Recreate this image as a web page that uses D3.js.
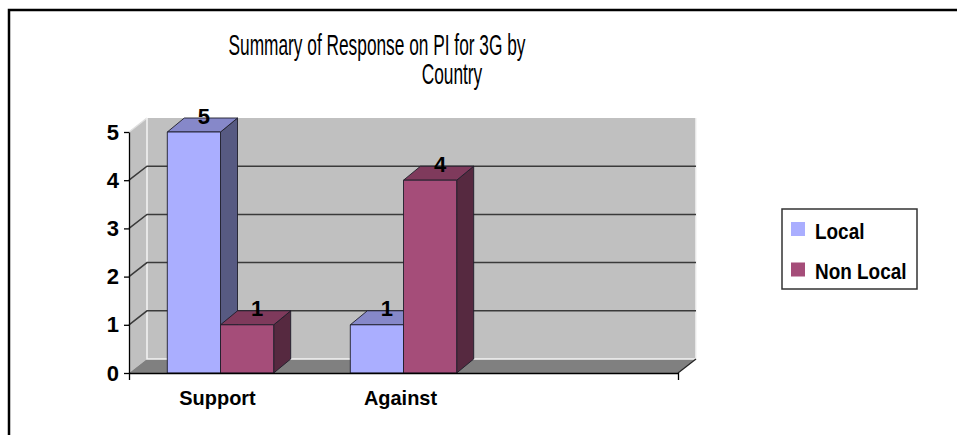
<!DOCTYPE html>
<html lang="en">

<head>
	<meta charset="utf-8" />
	<title>Summary of Response on PI for 3G by Country</title>
	<style>
		body {
			margin: 0;
			padding: 0;
			background: #fff;
		}
		svg text {
			font-family: 'Liberation Sans', Arial, sans-serif;
		}
	</style>
	<script src="https://d3js.org/d3.v7.min.js"></script>
</head>

<body>
	<div id="chart"></div>

	<script>
	// data (third category slot is empty in the original)
	const categories = ["Support", "Against", ""];
	const series = ["Local", "Non Local"];
	const localValues = [5, 1, null];
	const nonLocalValues = [1, 4, null];
	const yTicks = [0, 1, 2, 3, 4, 5];
	const titleLines = ["Summary of Response on PI for 3G by", "Country"];

	const width = 957, height = 435;
	const wallDx = 18, wallDy = -14;   // depth of the 3d walls
	const barDx = 17, barDy = -14;     // depth of each column

	const colors = {
		"Local": { front: "#aaaeff", top: "#8688c9", side: "#575a82" },
		"Non Local": { front: "#a54d79", top: "#7f3a5c", side: "#562940" }
	};

	const svg = d3.select("#chart")
		.append("svg")
		.attr("width", width)
		.attr("height", height);

	// squeeze text horizontally, the original fonts are narrow
	function condense(sel, f) {
		sel.each(function() {
			const len = this.getComputedTextLength();
			if (len > 0) {
				d3.select(this)
					.attr("textLength", len * f)
					.attr("lengthAdjust", "spacingAndGlyphs");
			}
		});
	}

	// outer chart border (runs off the page on right and bottom)
	svg.append("rect")
		.attr("x", 9).attr("y", 10)
		.attr("width", 1000).attr("height", 1000)
		.attr("fill", "none")
		.attr("stroke", "#000")
		.attr("stroke-width", 2.5);

	const x = d3.scaleBand().domain(categories).range([129, 678]);
	const xs = d3.scaleBand().domain(series)
		.range([0, x.bandwidth()])
		.paddingInner(0)
		.paddingOuter(0.72);
	const y = d3.scaleLinear().domain([0, 5]).range([373, 132]);

	const x0 = x.range()[0], x1 = x.range()[1];
	const yTop = y(5), yBot = y(0);

	// walls and floor
	const walls = svg.append("g");
	walls.append("polygon")   // back wall
		.attr("points", [[x0 + wallDx, yTop + wallDy], [x1 + wallDx, yTop + wallDy], [x1 + wallDx, yBot + wallDy], [x0 + wallDx, yBot + wallDy]].join(" "))
		.attr("fill", "#c0c0c0");
	walls.append("polygon")   // side wall
		.attr("points", [[x0, yTop], [x0 + wallDx, yTop + wallDy], [x0 + wallDx, yBot + wallDy], [x0, yBot]].join(" "))
		.attr("fill", "#c0c0c0");
	walls.append("polygon")   // floor
		.attr("points", [[x0, yBot], [x0 + wallDx, yBot + wallDy], [x1 + wallDx, yBot + wallDy], [x1, yBot]].join(" "))
		.attr("fill", "#808080");

	// gridlines on side and back wall
	const grid = svg.append("g");
	grid.selectAll("path")
		.data(yTicks.filter(d => d > 0 && d < 5))
		.enter()
		.append("path")
		.attr("d", d => `M${x0},${y(d)}L${x0 + wallDx},${y(d) + wallDy}H${x1 + wallDx}`)
		.attr("fill", "none")
		.attr("stroke", "#3a3a3a")
		.attr("stroke-width", 1.5);

	// light edges of the walls
	walls.append("path")
		.attr("d", `M${x0},${yTop}L${x0 + wallDx},${yTop + wallDy}`)
		.attr("stroke", "#e0e0e0").attr("stroke-width", 1.5).attr("fill", "none");
	walls.append("path")
		.attr("d", `M${x0 + wallDx},${yTop + wallDy}V${yBot + wallDy}H${x1 + wallDx}V${yTop + wallDy}`)
		.attr("stroke", "#f4f4f4").attr("stroke-width", 1.5).attr("fill", "none");
	walls.append("path")
		.attr("d", `M${x1},${yBot}L${x1 + wallDx},${yBot + wallDy}`)
		.attr("stroke", "#222").attr("stroke-width", 1.2).attr("fill", "none");

	// columns
	const rows = [];
	categories.forEach((c, i) => {
		rows.push({ cat: c, s: "Local", v: localValues[i] });
		rows.push({ cat: c, s: "Non Local", v: nonLocalValues[i] });
	});
	const bars = rows.filter(d => d.v != null);

	const bar = svg.append("g").selectAll("g")
		.data(bars)
		.enter()
		.append("g")
		.attr("stroke", "#1e1e2a")
		.attr("stroke-width", 0.9)
		.attr("stroke-linejoin", "round");

	bar.append("polygon")   // side face
		.attr("points", d => {
			const bx = x(d.cat) + xs(d.s) + xs.bandwidth(), t = y(d.v);
			return [[bx, t], [bx + barDx, t + barDy], [bx + barDx, yBot + barDy], [bx, yBot]].join(" ");
		})
		.attr("fill", d => colors[d.s].side);
	bar.append("polygon")   // top face
		.attr("points", d => {
			const bx = x(d.cat) + xs(d.s), w = xs.bandwidth(), t = y(d.v);
			return [[bx, t], [bx + barDx, t + barDy], [bx + w + barDx, t + barDy], [bx + w, t]].join(" ");
		})
		.attr("fill", d => colors[d.s].top);
	bar.append("rect")   // front face
		.attr("x", d => x(d.cat) + xs(d.s))
		.attr("y", d => y(d.v))
		.attr("width", xs.bandwidth())
		.attr("height", d => yBot - y(d.v))
		.attr("fill", d => colors[d.s].front);

	// value labels
	svg.append("g").selectAll("text")
		.data(bars)
		.enter()
		.append("text")
		.attr("x", d => x(d.cat) + xs(d.s) + xs.bandwidth() / 2 + 10)
		.attr("y", d => y(d.v) - 8.5)
		.attr("text-anchor", "middle")
		.attr("font-size", 22)
		.attr("font-weight", "bold")
		.attr("fill", "#000")
		.text(d => d.v);

	// axes
	const yAxis = svg.append("g")
		.attr("transform", `translate(${x0},0)`)
		.call(d3.axisLeft(y).tickValues(yTicks).tickSizeInner(5).tickSizeOuter(0).tickPadding(5).tickFormat(d3.format("d")));
	yAxis.selectAll("path, line").attr("stroke", "#000").attr("stroke-width", 1.3);
	yAxis.selectAll("text")
		.attr("font-size", 22)
		.attr("font-weight", "bold")
		.attr("fill", "#000")
		.style("font-family", "'Liberation Sans', Arial, sans-serif");

	const xAxis = svg.append("g")
		.attr("transform", `translate(0,${yBot})`)
		.call(d3.axisBottom(x).tickSizeInner(0).tickSizeOuter(7).tickPadding(17));
	xAxis.select(".domain").attr("stroke", "#000").attr("stroke-width", 1.3);
	xAxis.selectAll("text")
		.attr("x", -3)
		.attr("font-size", 21)
		.attr("font-weight", "bold")
		.attr("fill", "#000")
		.style("font-family", "'Liberation Sans', Arial, sans-serif")
		.call(condense, 0.95);

	// title, narrow glyphs: first line is squeezed to ~297px, second line by the same factor
	const title = svg.append("g").selectAll("text")
		.data(titleLines)
		.enter()
		.append("text")
		.attr("x", (d, i) => i === 0 ? 377 : 452)
		.attr("y", (d, i) => 55 + i * 29)
		.attr("text-anchor", "middle")
		.attr("font-size", 29)
		.attr("fill", "#000")
		.text(d => d);
	const titleF = 297 / title.node().getComputedTextLength();
	title.call(condense, titleF);

	// legend
	const legend = svg.append("g").attr("transform", "translate(782,209)");
	legend.append("rect")
		.attr("width", 135).attr("height", 80)
		.attr("fill", "#fff")
		.attr("stroke", "#333")
		.attr("stroke-width", 1.5);
	const item = legend.selectAll("g")
		.data(series)
		.enter()
		.append("g")
		.attr("transform", (d, i) => `translate(9,${13 + i * 40.5})`);
	item.append("rect")
		.attr("width", 14).attr("height", 14)
		.attr("fill", d => colors[d].front);
	item.append("text")
		.attr("x", 24)
		.attr("y", 16.5)
		.attr("font-size", 22)
		.attr("font-weight", "bold")
		.attr("fill", "#000")
		.text(d => d)
		.call(condense, 0.86);
	</script>
</body>

</html>
